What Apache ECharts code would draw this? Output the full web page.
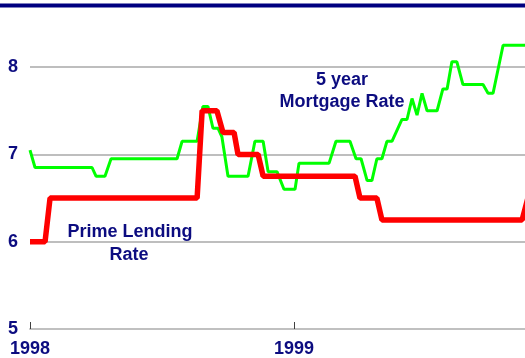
<!DOCTYPE html>
<html>
<head>
<meta charset="utf-8">
<script src="https://cdn.jsdelivr.net/npm/echarts@6/dist/echarts.min.js"></script>
<style>
  html, body { margin: 0; padding: 0; background: #ffffff; }
  #chart { width: 525px; height: 358px; }
</style>
</head>
<body>
<div id="chart"></div>
<script>
// Time positions are decimal years; rates are percent.
const mortgageYears = [
  1998.000, 1998.019, 1998.235, 1998.250, 1998.284, 1998.307, 1998.557, 1998.576,
  1998.633, 1998.655, 1998.674, 1998.693, 1998.712, 1998.727, 1998.750, 1998.826,
  1998.852, 1998.883, 1998.902, 1998.936, 1998.962, 1999.004, 1999.019, 1999.133,
  1999.159, 1999.212, 1999.235, 1999.254, 1999.277, 1999.295, 1999.314, 1999.333,
  1999.352, 1999.371, 1999.409, 1999.428, 1999.447, 1999.466, 1999.485, 1999.504,
  1999.542, 1999.564, 1999.580, 1999.598, 1999.617, 1999.640, 1999.716, 1999.735,
  1999.754, 1999.792, 1999.875
];
const mortgageRates = [
  7.05, 6.85, 6.85, 6.75, 6.75, 6.95, 6.95, 7.15,
  7.15, 7.55, 7.55, 7.30, 7.30, 7.20, 6.75, 6.75,
  7.15, 7.15, 6.80, 6.80, 6.60, 6.60, 6.90, 6.90,
  7.15, 7.15, 6.95, 6.95, 6.70, 6.70, 6.95, 6.95,
  7.15, 7.15, 7.40, 7.40, 7.64, 7.45, 7.70, 7.50,
  7.50, 7.75, 7.75, 8.06, 8.06, 7.80, 7.80, 7.70,
  7.70, 8.25, 8.25
];

const primeYears = [
  1998.000, 1998.057, 1998.076, 1998.633, 1998.652, 1998.708, 1998.731, 1998.773,
  1998.788, 1998.864, 1998.883, 1999.231, 1999.250, 1999.314, 1999.333, 1999.864,
  1999.886
];
const primeRates = [
  6.00, 6.00, 6.50, 6.50, 7.50, 7.50, 7.25, 7.25,
  7.00, 7.00, 6.75, 6.75, 6.50, 6.50, 6.25, 6.25,
  6.50
];

const yearTicks = [1998, 1999];
const rateMin = 5, rateMax = 8.7;

const navy = '#0c0c80';
const fontFamily = '"Liberation Sans", Arial, sans-serif';

function pairs(xs, ys) {
  return xs.map((x, i) => [x, ys[i]]);
}

const chart = echarts.init(document.getElementById('chart'), null, { renderer: 'canvas' });

chart.setOption({
  animation: false,
  backgroundColor: '#ffffff',
  grid: { left: 30, right: 0, top: 6, bottom: 24, containLabel: false },
  xAxis: {
    type: 'value',
    min: 1998,
    max: 1999.875,
    interval: 1,
    axisLine: { show: true, lineStyle: { color: '#c0c0c0', width: 2 } },
    axisTick: {
      show: true, inside: true, length: 7,
      customValues: yearTicks,
      lineStyle: { color: '#404040', width: 1 }
    },
    axisLabel: {
      customValues: yearTicks,
      formatter: v => String(Math.round(v)),
      margin: 11,
      color: navy,
      fontFamily: fontFamily,
      fontWeight: 'bold',
      fontSize: 18
    },
    splitLine: { show: false }
  },
  yAxis: {
    type: 'value',
    min: rateMin,
    max: rateMax,
    interval: 1,
    axisLine: { show: false },
    axisTick: { show: false },
    axisLabel: {
      showMaxLabel: false,
      margin: 12,
      color: navy,
      fontFamily: fontFamily,
      fontWeight: 'bold',
      fontSize: 18
    },
    splitLine: {
      show: true,
      showMinLine: false,
      showMaxLine: false,
      lineStyle: { color: '#a8a8a8', width: 1.5 }
    }
  },
  series: [
    {
      name: '5 year Mortgage Rate',
      type: 'line',
      data: pairs(mortgageYears, mortgageRates),
      showSymbol: false,
      clip: true,
      lineStyle: { color: '#00ff00', width: 3 },
      z: 2
    },
    {
      name: 'Prime Lending Rate',
      type: 'line',
      data: pairs(primeYears, primeRates),
      showSymbol: false,
      clip: true,
      lineStyle: { color: '#ff0000', width: 5.5 },
      z: 3
    }
  ],
  graphic: [
    {
      type: 'rect',
      shape: { x: 0, y: 3.5, width: 525, height: 4 },
      style: { fill: '#000080' },
      z: 100
    },
    {
      type: 'text',
      x: 342, y: 80,
      style: {
        text: '5 year', fill: navy, align: 'center', verticalAlign: 'middle',
        font: 'bold 18px ' + fontFamily
      },
      z: 100
    },
    {
      type: 'text',
      x: 342, y: 102,
      style: {
        text: 'Mortgage Rate', fill: navy, align: 'center', verticalAlign: 'middle',
        font: 'bold 18px ' + fontFamily
      },
      z: 100
    },
    {
      type: 'text',
      x: 130, y: 232,
      style: {
        text: 'Prime Lending', fill: navy, align: 'center', verticalAlign: 'middle',
        font: 'bold 18px ' + fontFamily
      },
      z: 100
    },
    {
      type: 'text',
      x: 129, y: 255,
      style: {
        text: 'Rate', fill: navy, align: 'center', verticalAlign: 'middle',
        font: 'bold 18px ' + fontFamily
      },
      z: 100
    }
  ]
});
</script>
</body>
</html>
